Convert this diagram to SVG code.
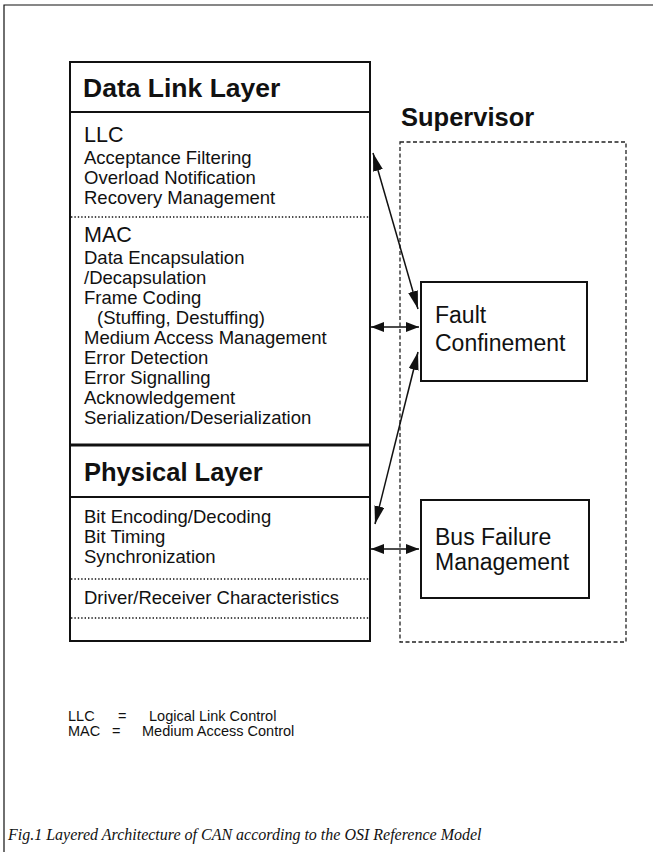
<svg xmlns="http://www.w3.org/2000/svg" width="653" height="852" viewBox="0 0 653 852">
  <style>
    .frame { fill: none; stroke: #111; stroke-width: 1.2; }
    .box { fill: #fff; stroke: #111; stroke-width: 2; }
    .rule { stroke: #111; stroke-width: 2; }
    .thick { stroke: #111; stroke-width: 3; }
    .dots { stroke: #111; stroke-width: 1.6; stroke-dasharray: 1.4 2; }
    .dash { fill: none; stroke: #222; stroke-width: 1.3; stroke-dasharray: 4 2.5; }
    .wire { stroke: #111; stroke-width: 1.5; fill: none; }
    text { font-family: "Liberation Sans", Arial, sans-serif; fill: #111; }
    .h { font-size: 25.5px; font-weight: bold; }
    .h.wide { font-size: 26.5px; }
    .sub { font-size: 21.5px; }
    .b { font-size: 18.5px; }
    .sv { font-size: 23px; }
    .lg { font-size: 14.5px; }
    .cap { font-family: "Liberation Serif", "Times New Roman", serif; font-style: italic; font-size: 16px; }
  </style>
  <defs>
    <marker id="headLong" viewBox="0 0 18 10" refX="18" refY="5" markerWidth="18" markerHeight="10" markerUnits="userSpaceOnUse" orient="auto-start-reverse">
      <path d="M0,0 L18,5 L0,10 z" fill="#111"/>
    </marker>
    <marker id="headShort" viewBox="0 0 13 10" refX="13" refY="5" markerWidth="13" markerHeight="10" markerUnits="userSpaceOnUse" orient="auto-start-reverse">
      <path d="M0,0 L13,5 L0,10 z" fill="#111"/>
    </marker>
  </defs>

  <rect width="653" height="852" fill="#fff"/>

  <!-- page frame: top and left edges -->
  <path class="frame" d="M653,5 H4 V852"/>

  <!-- layer stack -->
  <g id="layer-stack">
    <rect class="box" x="70" y="62" width="300" height="579"/>
    <line class="rule" x1="70" y1="112" x2="370" y2="112"/>
    <line class="dots" x1="71" y1="217" x2="369" y2="217"/>
    <line class="thick" x1="70" y1="445" x2="370" y2="445"/>
    <line class="rule" x1="70" y1="497" x2="370" y2="497"/>
    <line class="dots" x1="71" y1="579" x2="369" y2="579"/>
    <line class="dots" x1="71" y1="618" x2="369" y2="618"/>

    <text class="h wide" x="83" y="97">Data Link Layer</text>

    <text class="sub" x="84" y="142">LLC</text>
    <text class="b" x="84" y="164">Acceptance Filtering</text>
    <text class="b" x="84" y="184">Overload Notification</text>
    <text class="b" x="84" y="204">Recovery Management</text>

    <text class="sub" x="84" y="242">MAC</text>
    <text class="b" x="84" y="264">Data Encapsulation</text>
    <text class="b" x="84" y="284">/Decapsulation</text>
    <text class="b" x="84" y="304">Frame Coding</text>
    <text class="b" x="97" y="324">(Stuffing, Destuffing)</text>
    <text class="b" x="84" y="344">Medium Access Management</text>
    <text class="b" x="84" y="364">Error Detection</text>
    <text class="b" x="84" y="384">Error Signalling</text>
    <text class="b" x="84" y="404">Acknowledgement</text>
    <text class="b" x="84" y="424">Serialization/Deserialization</text>

    <text class="h" x="84" y="481">Physical Layer</text>
    <text class="b" x="84" y="523">Bit Encoding/Decoding</text>
    <text class="b" x="84" y="543">Bit Timing</text>
    <text class="b" x="84" y="563">Synchronization</text>
    <text class="b" x="84" y="604">Driver/Receiver Characteristics</text>
  </g>

  <!-- supervisor -->
  <g id="supervisor">
    <text class="h" x="401" y="126">Supervisor</text>
    <rect class="dash" x="400" y="142" width="226" height="500"/>
  </g>

  <g id="fault-confinement">
    <rect class="box" x="421" y="282" width="166" height="99"/>
    <text class="sv" x="435" y="323">Fault</text>
    <text class="sv" x="435" y="351">Confinement</text>
  </g>

  <g id="bus-failure-management">
    <rect class="box" x="421" y="500" width="168" height="98"/>
    <text class="sv" x="435" y="545">Bus Failure</text>
    <text class="sv" x="435" y="570">Management</text>
  </g>

  <!-- connectors -->
  <g id="connectors">
    <line class="wire" x1="373" y1="153" x2="418" y2="309" marker-start="url(#headLong)" marker-end="url(#headLong)"/>
    <line class="wire" x1="375" y1="524" x2="418" y2="352" marker-start="url(#headLong)" marker-end="url(#headLong)"/>
    <line class="wire" x1="371" y1="327" x2="419" y2="327" marker-start="url(#headShort)" marker-end="url(#headShort)"/>
    <line class="wire" x1="371" y1="549" x2="419" y2="549" marker-start="url(#headShort)" marker-end="url(#headShort)"/>
  </g>

  <!-- abbreviations -->
  <g id="legend">
    <text class="lg" y="721"><tspan x="68">LLC</tspan><tspan x="118">=</tspan><tspan x="149">Logical Link Control</tspan></text>
    <text class="lg" y="736"><tspan x="68">MAC</tspan><tspan x="112">=</tspan><tspan x="142">Medium Access Control</tspan></text>
  </g>

  <text class="cap" x="8" y="840">Fig.1  Layered Architecture of CAN according to the OSI Reference Model</text>
</svg>
